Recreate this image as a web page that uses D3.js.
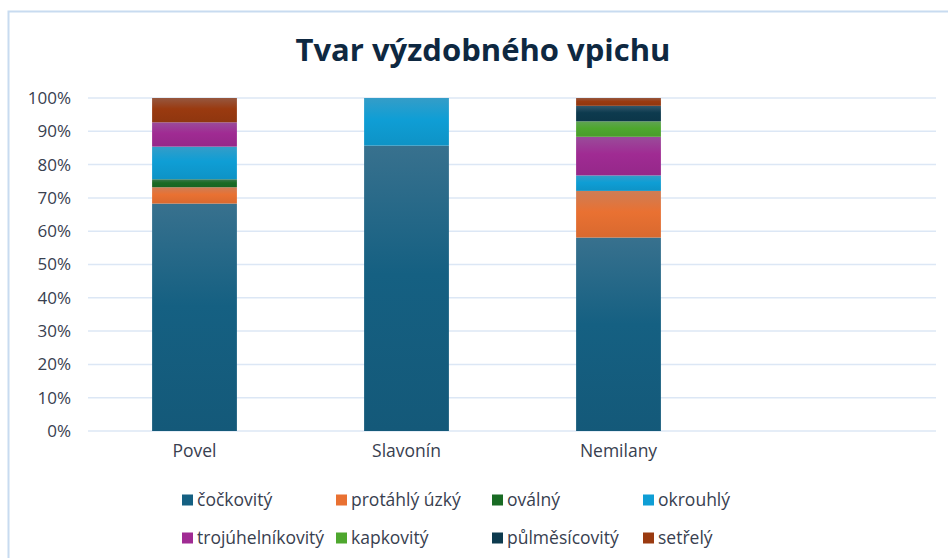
<!DOCTYPE html>
<html><head><meta charset="utf-8">
<script src="https://cdn.jsdelivr.net/npm/d3@7"></script>
<style>body{margin:0;background:#fff;}svg{display:block;font-family:"Open Sans",sans-serif;}</style>
</head><body>
<svg id="c" width="948" height="558"></svg>
<script>
const categories = ["Povel", "Slavonín", "Nemilany", ""];
const seriesNames = ["čočkovitý","protáhlý úzký","oválný","okrouhlý","trojúhelníkovitý","kapkovitý","půlměsícovitý","setřelý"];
const seriesColors = ["#156082","#E97132","#196B24","#0F9ED5","#A02B93","#4EA72E","#0D3A4E","#9A3A10"];
// percent values per series, in category order
const cockovity       = [68.3, 85.7, 58.1, 0];
const protahlyUzky    = [4.9, 0, 14.0, 0];
const ovalny          = [2.4, 0, 0, 0];
const okrouhly        = [9.8, 14.3, 4.65, 0];
const trojuhelnikovity= [7.3, 0, 11.6, 0];
const kapkovity       = [0, 0, 4.65, 0];
const pulmesicovity   = [0, 0, 4.65, 0];
const setrely         = [7.3, 0, 2.35, 0];
const yTicks = [0,10,20,30,40,50,60,70,80,90,100];

const seriesValues = [cockovity, protahlyUzky, ovalny, okrouhly, trojuhelnikovity, kapkovity, pulmesicovity, setrely];
const rows = categories.map((c,i)=>{const r={cat:c}; seriesNames.forEach((s,j)=>r[s]=seriesValues[j][i]); return r;});

const FONT = "'Open Sans', sans-serif";
const TXT = "#38404f";
const svg = d3.select("#c");
// frame
svg.append("path").attr("d","M8.5,558 V11.5 H948").attr("fill","none").attr("stroke","#c8dbf0").attr("stroke-width",2);

const x = d3.scaleBand().domain(categories).range([88.5,936.5]).paddingInner(0.6).paddingOuter(0.3);
const y = d3.scaleLinear().domain([0,100]).range([431,98]);

// gridlines
svg.append("g").selectAll("line").data(yTicks).join("line")
  .attr("x1",88).attr("x2",936).attr("y1",d=>y(d)).attr("y2",d=>y(d))
  .attr("stroke","#dce7f5").attr("stroke-width",1.5);

// y axis labels
const yAxis = d3.axisLeft(y).tickValues(yTicks).tickFormat(d=>d+"%").tickSize(0).tickPadding(0);
const gy = svg.append("g").attr("transform","translate(71,0)").call(yAxis);
gy.select(".domain").remove();
gy.selectAll("text").attr("font-size",17).attr("fill",TXT).attr("font-family",FONT);

// x axis labels
const xAxis = d3.axisBottom(x).tickSize(0).tickPadding(0);
const gx = svg.append("g").attr("transform","translate(0,445)").call(xAxis);
gx.select(".domain").remove();
gx.selectAll("text").attr("font-size",17.5).attr("fill",TXT).attr("font-family",FONT);

// gradients
const defs = svg.append("defs");
seriesColors.forEach((col,i)=>{
  const g = defs.append("linearGradient").attr("id","g"+i).attr("x1",0).attr("y1",0).attr("x2",0).attr("y2",1);
  const c = d3.color(col);
  const light = d3.interpolateRgb(col,"#8a9aab")(0.3);
  g.append("stop").attr("offset","0%").attr("stop-color",light);
  g.append("stop").attr("offset","45%").attr("stop-color",col);
  g.append("stop").attr("offset","100%").attr("stop-color",c.darker(0.2).formatHex());
});

const stack = d3.stack().keys(seriesNames)(rows);
svg.append("g").selectAll("g").data(stack).join("g")
  .attr("fill",(d,i)=>`url(#g${i})`)
  .selectAll("rect").data(d=>d).join("rect")
  .attr("x",d=>x(d.data.cat)).attr("width",x.bandwidth())
  .attr("y",d=>y(d[1])).attr("height",d=>Math.max(0,y(d[0])-y(d[1])));

// title
svg.append("text").attr("x",483).attr("y",61).attr("text-anchor","middle")
  .attr("font-size",31).attr("font-weight","bold").attr("fill","#0E2841")
  .attr("font-family",FONT)
  .text("Tvar výzdobného vpichu");

// legend
const colX = [182, 336, 492, 643];
const rowY = [500, 538];
const lg = svg.append("g").selectAll("g").data(seriesNames).join("g")
  .attr("transform",(d,i)=>`translate(${colX[i%4]},${rowY[Math.floor(i/4)]})`);
lg.append("rect").attr("x",0).attr("y",-5.5).attr("width",11).attr("height",11).attr("fill",(d,i)=>seriesColors[i]);
lg.append("text").attr("x",15).attr("y",0).attr("dy","0.35em").attr("font-size",17.5).attr("fill",TXT)
  .attr("font-family",FONT).text(d=>d);
</script>
</body></html>
